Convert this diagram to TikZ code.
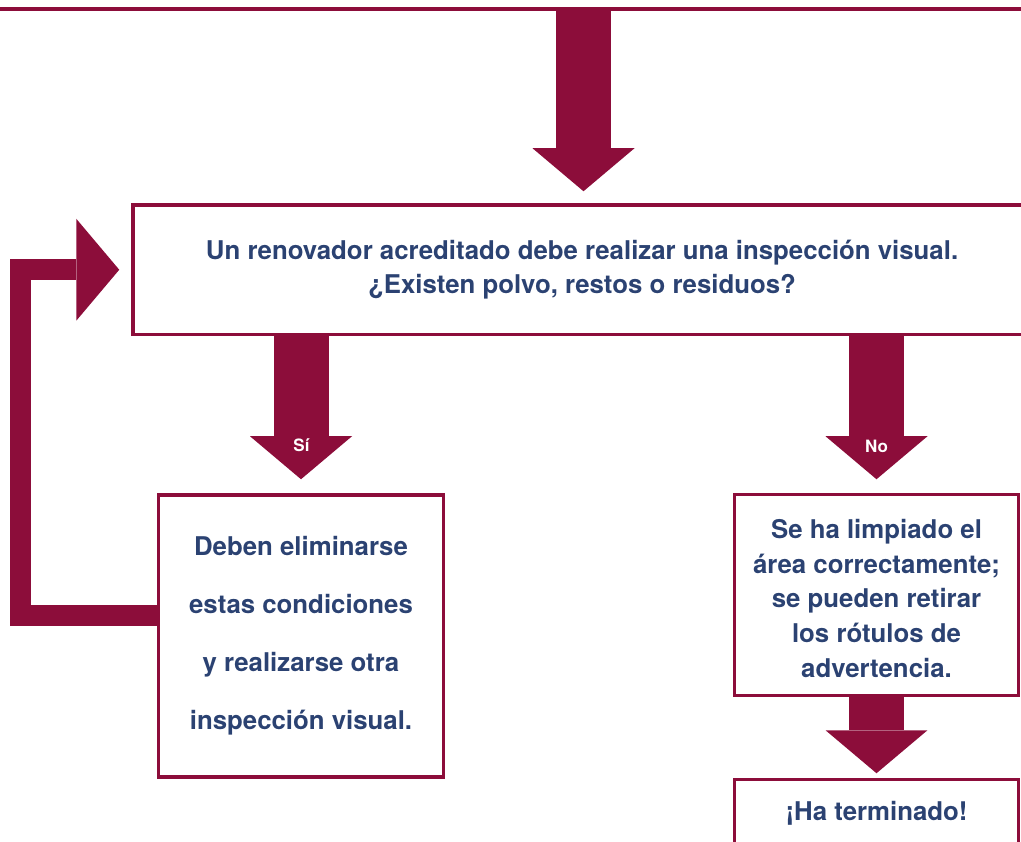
\documentclass[tikz,border=0pt]{standalone}
\usepackage{fontspec}
\setmainfont{TeX Gyre Heros}
\usetikzlibrary{arrows.meta, positioning}
\definecolor{maroon}{HTML}{8C0D3A}
\definecolor{navy}{HTML}{2B4272}

\begin{document}
\begin{tikzpicture}[x=1pt, y=-1pt,
  box/.style={draw=maroon, line width=3.5pt, rectangle, text=navy, align=center, inner sep=0pt,
    font=\bfseries\fontsize{25.8}{34}\selectfont},
  flow/.style={maroon, line width=55pt, -{Triangle[width=102pt, length=43pt, line width=0pt]}},
  lbl/.style={text=white, font=\bfseries\fontsize{17}{20}\selectfont}]
\useasboundingbox (0,0) rectangle (1021,842);
\clip (0,0) rectangle (1021,842);

% boxes
\node[box, minimum width=898pt, minimum height=129.5pt] (insp) at (582,269.75)
  {Un renovador acreditado debe realizar una inspección visual.\\¿Existen polvo, restos o residuos?};
\node[box, minimum width=285pt, minimum height=282pt, font=\bfseries\fontsize{25.8}{58}\selectfont] (elim) at (301,636)
  {Deben eliminarse\\estas condiciones\\y realizarse otra\\inspección visual.};
\node[box, minimum width=284pt, minimum height=201pt] (clean) at (876.5,595) {};
\node[box, draw=none, font=\bfseries\fontsize{25.8}{34.7}\selectfont] (cleantxt) at ([yshift=-3.5pt]clean.center)
  {Se ha limpiado el\\área correctamente;\\se pueden retirar\\los rótulos de\\advertencia.};
\node[box, minimum width=284pt, minimum height=68pt] (done) at (876.5,813.5) {¡Ha terminado!};

% line of the step above
\coordinate (prevL) at (0,9);
\coordinate (prevR) at (1021,9);
\coordinate (loop) at (20.5,0);
\draw[maroon, line width=4pt] (prevL) -- (prevR);

% arrows
\draw[flow] ([xshift=1.5pt]insp.north |- prevL) -- ([xshift=1.5pt, yshift=12pt]insp.north);
\draw[flow] (elim.north |- insp.south) -- ([yshift=14pt]elim.north);
\draw[flow] (clean.north |- insp.south) -- ([yshift=13.5pt]clean.north);
\draw[flow] (clean.south) -- ([yshift=4.5pt]done.north);
\draw[flow, line width=21pt] ([yshift=21pt]elim.west) -| (loop |- insp.west) -- ([xshift=-12pt]insp.west);

\node[lbl] (si) at (301.5,445) {Sí};
\node[lbl] (no) at (876.5,446) {No};
\end{tikzpicture}
\end{document}
